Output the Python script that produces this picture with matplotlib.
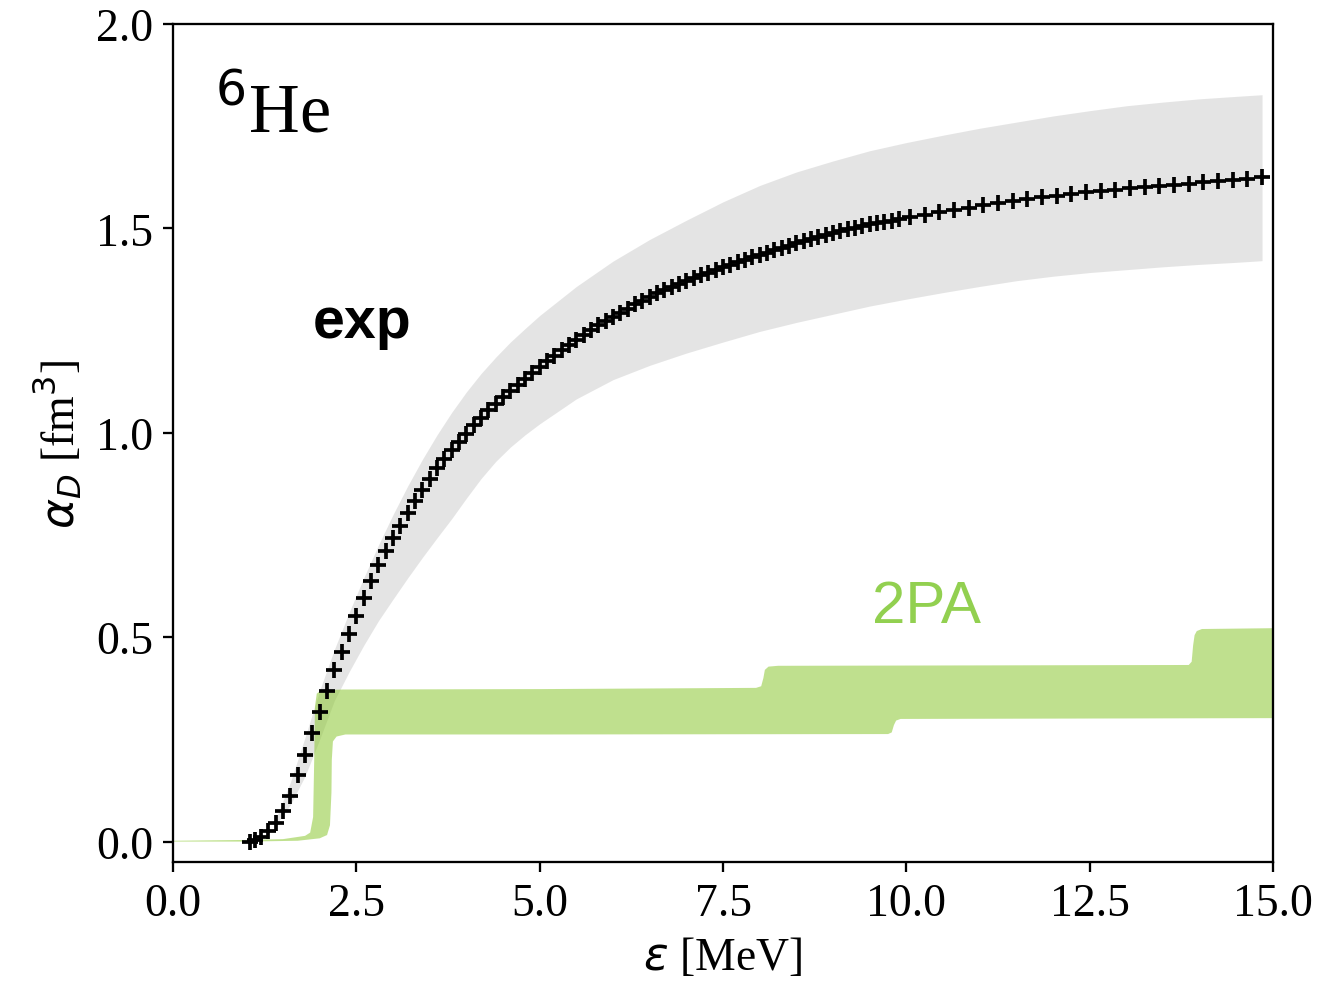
import numpy as np
import matplotlib
matplotlib.use('Agg')
import matplotlib.pyplot as plt

plt.rcParams['font.family'] = 'serif'
plt.rcParams['font.serif'] = ['Liberation Serif', 'DejaVu Serif']
plt.rcParams['mathtext.fontset'] = 'dejavusans'

exp_E = [1.05, 1.12, 1.2, 1.3, 1.4, 1.5, 1.6, 1.7, 1.8, 1.9,
         2.0, 2.1, 2.2, 2.3, 2.4, 2.5, 2.6, 2.7, 2.8, 2.9,
         3.0, 3.1, 3.2, 3.3, 3.4, 3.5, 3.6, 3.7, 3.8, 3.9,
         4.0, 4.1, 4.2, 4.3, 4.4, 4.5, 4.6, 4.7, 4.8, 4.9,
         5.0, 5.1, 5.2, 5.3, 5.4, 5.5, 5.6, 5.7, 5.8, 5.9,
         6.0, 6.1, 6.2, 6.3, 6.4, 6.5, 6.6, 6.7, 6.8, 6.9,
         7.0, 7.1, 7.2, 7.3, 7.4, 7.5, 7.6, 7.7, 7.8, 7.9,
         8.0, 8.1, 8.2, 8.3, 8.4, 8.5, 8.6, 8.7, 8.8, 8.9,
         9.0, 9.1, 9.2, 9.3, 9.4, 9.5, 9.6, 9.7, 9.8, 9.9,
         10.05, 10.25, 10.45, 10.65, 10.85, 11.05, 11.25, 11.45, 11.65, 11.85,
         12.05, 12.25, 12.45, 12.65, 12.85, 13.05, 13.25, 13.45, 13.65, 13.85,
         14.05, 14.25, 14.45, 14.65, 14.85]
exp_alpha = [0.000, 0.003, 0.010, 0.025, 0.046, 0.074, 0.112, 0.162, 0.213, 0.265,
             0.318, 0.368, 0.420, 0.464, 0.509, 0.553, 0.597, 0.638, 0.677, 0.711,
             0.743, 0.773, 0.804, 0.834, 0.859, 0.886, 0.914, 0.937, 0.958, 0.978,
             0.998, 1.018, 1.037, 1.055, 1.071, 1.087, 1.102, 1.117, 1.132, 1.147,
             1.161, 1.175, 1.189, 1.202, 1.215, 1.228, 1.240, 1.252, 1.263, 1.274,
             1.284, 1.294, 1.304, 1.314, 1.323, 1.332, 1.341, 1.349, 1.357, 1.365,
             1.372, 1.379, 1.386, 1.392, 1.399, 1.405, 1.411, 1.417, 1.423, 1.429,
             1.435, 1.441, 1.447, 1.453, 1.458, 1.464, 1.469, 1.474, 1.479, 1.484,
             1.489, 1.494, 1.498, 1.502, 1.506, 1.510, 1.513, 1.516, 1.519, 1.522,
             1.527, 1.533, 1.539, 1.545, 1.551, 1.557, 1.563, 1.567, 1.572, 1.576,
             1.580, 1.584, 1.588, 1.592, 1.595, 1.598, 1.601, 1.604, 1.606, 1.609,
             1.613, 1.616, 1.619, 1.622, 1.626]

# grey uncertainty band of the experiment
band_E = [1.4, 1.6, 1.8, 2.0, 2.2, 2.4, 2.6, 2.8, 3.0, 3.2, 3.4, 3.6, 3.8,
          4.0, 4.2, 4.4, 4.6, 4.8, 5.0, 5.5, 6.0, 6.5, 7.0, 7.5, 8.0, 8.5,
          9.0, 9.5, 10.0, 10.5, 11.0, 11.5, 12.0, 12.5, 13.0, 13.5, 14.0,
          14.5, 14.85]
band_lo = [0.040, 0.090, 0.160, 0.250, 0.345, 0.415, 0.480, 0.540, 0.593,
           0.645, 0.695, 0.743, 0.790, 0.840, 0.888, 0.930, 0.965, 0.995,
           1.022, 1.083, 1.130, 1.165, 1.195, 1.222, 1.248, 1.270, 1.290,
           1.310, 1.327, 1.343, 1.358, 1.372, 1.383, 1.392, 1.399, 1.406,
           1.412, 1.417, 1.421]
band_hi = [0.055, 0.145, 0.255, 0.370, 0.470, 0.560, 0.645, 0.725, 0.800,
           0.870, 0.935, 0.995, 1.050, 1.100, 1.145, 1.185, 1.222, 1.255,
           1.287, 1.358, 1.420, 1.473, 1.520, 1.565, 1.605, 1.638, 1.665,
           1.690, 1.710, 1.728, 1.745, 1.760, 1.775, 1.788, 1.800, 1.809,
           1.817, 1.823, 1.827]

# 2PA band, upper and lower edges
pa_hi_E = [0.0, 1.0, 1.5, 1.8, 1.87, 1.91, 1.925, 1.935, 1.96, 2.02, 2.3, 5.0,
           7.95, 8.02, 8.05, 8.07, 8.12, 8.25, 13.85, 13.89, 13.91, 13.93, 13.96,
           14.03, 15.0]
pa_hi = [0.002, 0.004, 0.006, 0.014, 0.022, 0.060, 0.200, 0.330, 0.362, 0.370,
         0.372, 0.373, 0.376, 0.380, 0.400, 0.420, 0.428, 0.430, 0.432, 0.440,
         0.480, 0.505, 0.515, 0.520, 0.522]
pa_lo_E = [0.0, 1.0, 1.7, 2.0, 2.1, 2.14, 2.16, 2.165, 2.18, 2.23, 2.35, 5.0,
           9.75, 9.80, 9.83, 9.86, 9.92, 15.0]
pa_lo = [0.000, 0.000, 0.002, 0.008, 0.016, 0.040, 0.120, 0.200, 0.245, 0.257,
         0.262, 0.262, 0.263, 0.267, 0.285, 0.296, 0.300, 0.302]

fig = plt.figure(figsize=(1325 / 206, 988 / 206), dpi=206)
ax = fig.add_axes([0.1306, 0.1265, 0.8302, 0.8482])

ax.fill_between(band_E, band_lo, band_hi, color='lightgray', alpha=0.6, lw=0)
ax.fill(np.r_[pa_hi_E, pa_lo_E[::-1]], np.r_[pa_hi, pa_lo[::-1]],
        color='#8cc832', alpha=0.55, lw=0)
ax.plot(exp_E, exp_alpha, '+', color='k', ms=5.5, mew=1.3)

ax.text(0.57, 1.738, r'$^6$He', fontsize=24.5, ha='left', va='baseline')
ax.text(1.91, 1.235, 'exp', fontsize=20, family='Liberation Sans',
        fontweight='bold', ha='left', va='baseline')
ax.text(9.53, 0.538, '2PA', fontsize=21, family='Liberation Sans',
        color='#92d050', ha='left', va='baseline')

ax.set_xlim(0, 15)
ax.set_ylim(-0.05, 2.0)
ax.set_xticks([0, 2.5, 5, 7.5, 10, 12.5, 15])
ax.set_yticks([0, 0.5, 1.0, 1.5, 2.0])
ax.tick_params(labelsize=16)
ax.set_xlabel(r'$\varepsilon$ [MeV]', fontsize=16)
ax.set_ylabel(r'$\alpha_D$ [fm$^3$]', fontsize=16)

fig.savefig('out.png', dpi=206)
